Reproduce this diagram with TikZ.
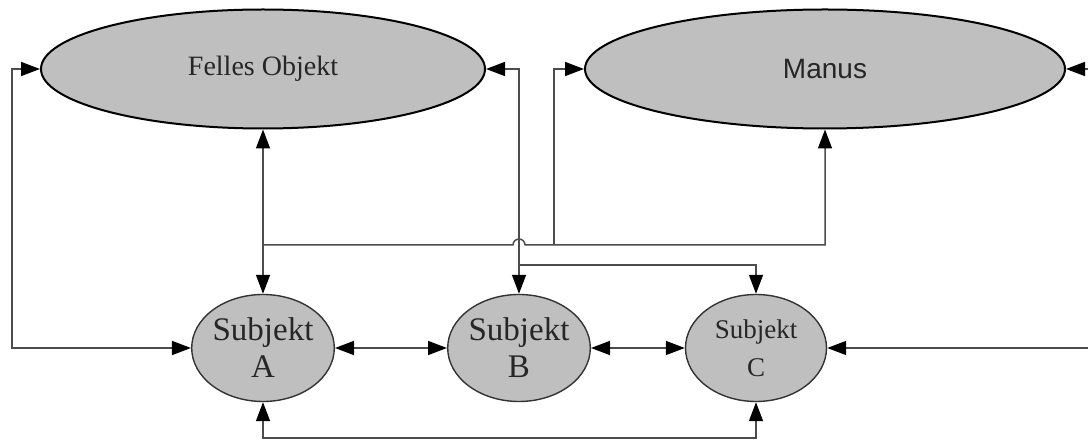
\documentclass[tikz,border=0pt]{standalone}
\usepackage{fontspec}
\setmainfont{Liberation Serif}
\newfontfamily\manusfont{Liberation Sans}
\usetikzlibrary{shapes.geometric,arrows.meta}

\tikzset{
  objekt/.style={ellipse,draw=black,line width=2pt,fill=black!25,inner sep=0pt,
    minimum width=444pt,minimum height=119pt,text=black!85},
  subjekt/.style={ellipse,draw=black!80,line width=1.4pt,fill=black!25,inner sep=0pt,
    minimum width=141pt,minimum height=107pt,align=center,text=black!85},
  conn/.style={draw=black!70,line width=1.5pt},
  tip/.tip={Triangle[length=19pt,width=14pt,color=black]}
}

\begin{document}
\begin{tikzpicture}[x=1pt,y=-1pt,>=tip]
	\useasboundingbox (0,0) rectangle (1088,443);
	\clip (0,0) rectangle (1088,443);
	% objects
	\node[objekt,font=\fontsize{28}{30}\selectfont] (fo) at (263,69) {Felles Objekt};
	\node[objekt,minimum width=480pt,font=\manusfont\fontsize{28}{30}\selectfont] (manus) at (825,69) {Manus};
	% subjects
	\node[subjekt,font=\fontsize{33}{37}\selectfont] (sa) at (263,348) {Subjekt\\A};
	\node[subjekt,font=\fontsize{33}{37}\selectfont] (sb) at (519,348) {Subjekt\\B};
	\node[subjekt,font=\fontsize{27}{38}\selectfont] (sc) at (756,348) {Subjekt\\C};
	% helper coordinates
	\coordinate (left) at (12,0);
	\coordinate (row1) at (0,245);
	\coordinate (row2) at (0,265);
	\coordinate (bot) at (0,438);
	\coordinate (jm) at (554,245);
	\coordinate (rt) at (1100,200);
	% connectors
	\draw[conn,<->] (sa.west) -| (left |- fo.west) -- (fo.west);
	\draw[conn,<->] (sa.north) -- (fo.south);
	\draw[conn,->] (sa.north |- row1) -- (513,245) arc[start angle=180,end angle=0,radius=6pt]
		-- (manus.south |- row1) -- (manus.south);
	\draw[conn,->] (jm) |- (manus.west);
	\draw[conn,<->] (fo.east) -| (sb.north);
	\draw[conn,->] (sb.north |- row2) -| (sc.north);
	\draw[conn,<->] (sa.east) -- (sb.west);
	\draw[conn,<->] (sb.east) -- (sc.west);
	\draw[conn,<->] (sa.south) -- (sa.south |- bot) -| (sc.south);
	\draw[conn,<->] (manus.east) -| (rt) |- (sc.east);
\end{tikzpicture}
\end{document}
